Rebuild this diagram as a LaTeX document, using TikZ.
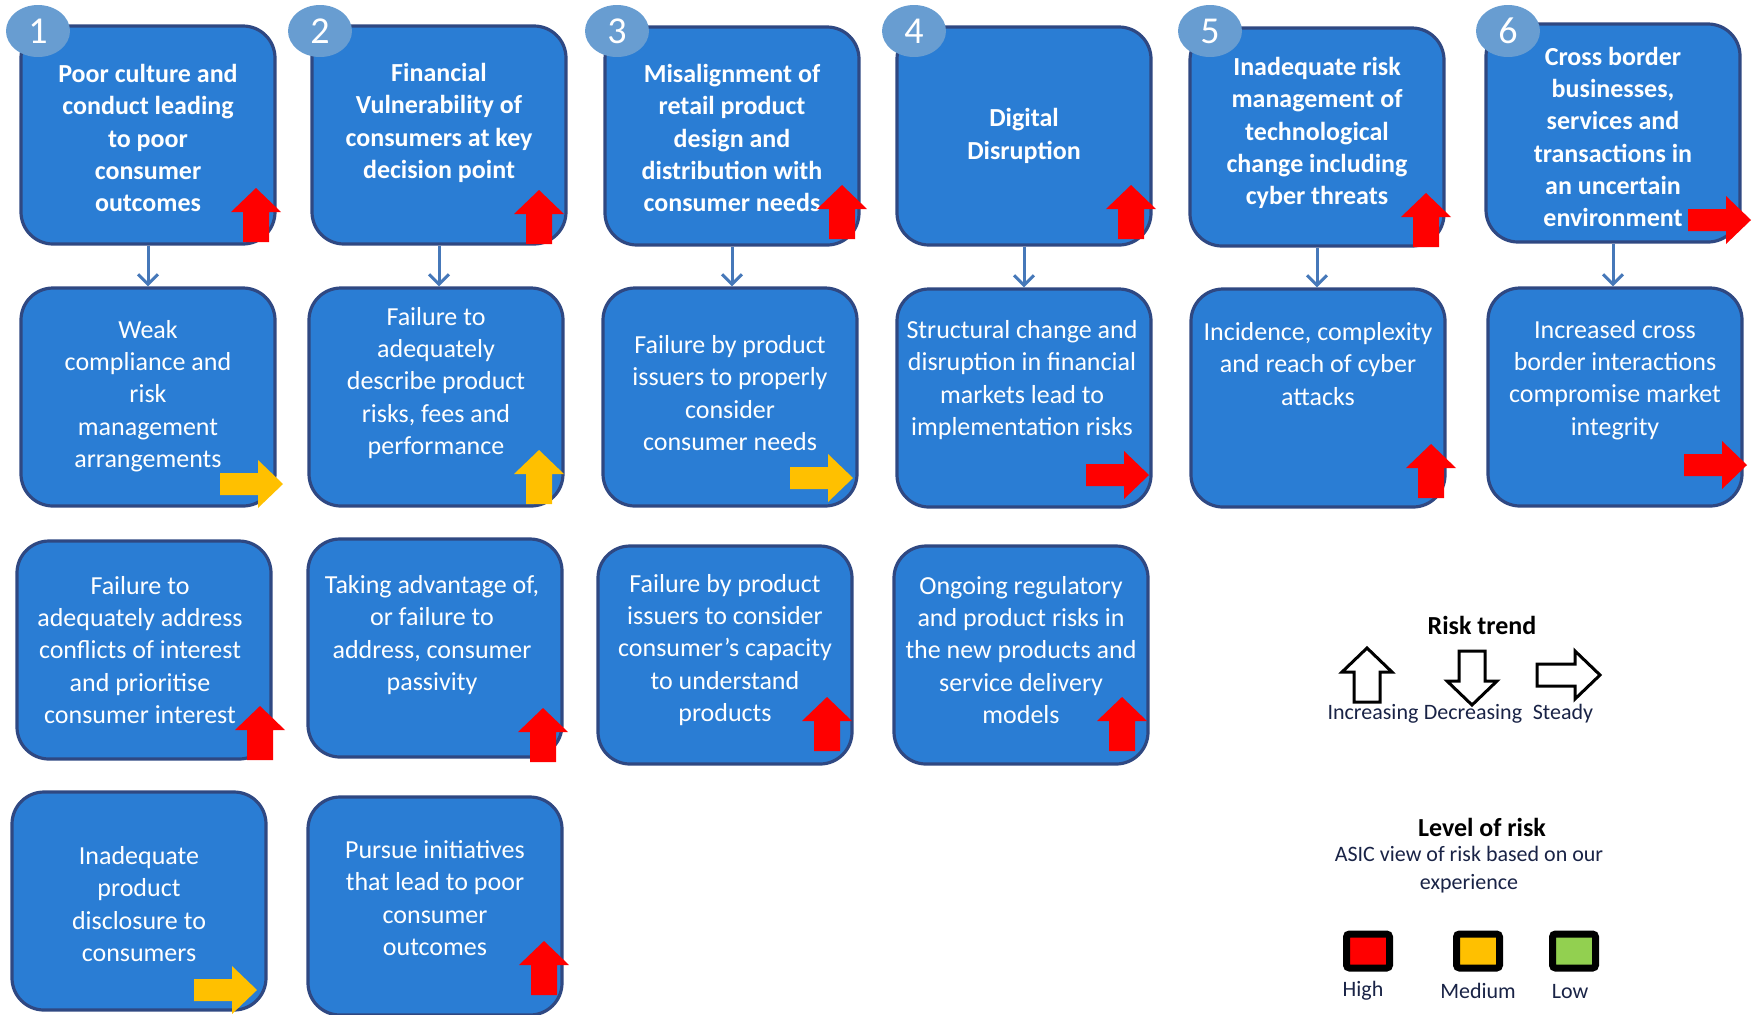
\documentclass[tikz,border=0pt]{standalone}
\usepackage{fontspec}
\setmainfont{Carlito}
\usetikzlibrary{arrows.meta,shapes.geometric}
\definecolor{boxblue}{RGB}{42,125,212}
\definecolor{boxedge}{RGB}{47,72,130}
\definecolor{numblue}{RGB}{104,157,209}
\definecolor{linkblue}{RGB}{70,120,185}
\definecolor{riskred}{RGB}{255,0,0}
\definecolor{riskamber}{RGB}{255,192,0}
\definecolor{risklow}{RGB}{146,208,80}
\definecolor{legink}{RGB}{25,35,70}
\begin{document}
\begin{tikzpicture}[x=0.5pt,y=-0.5pt,
  riskbox/.style={draw=boxedge,fill=boxblue,line width=1.6pt,rounded corners=16pt,
    minimum width=127pt,minimum height=109pt},
  boxtext/.style={text=white,align=center,inner sep=0pt,font=\fontsize{13}{16.1}\selectfont},
  toptext/.style={boxtext,font=\fontsize{13}{16.1}\selectfont\bfseries},
  badge/.style={ellipse,fill=numblue,minimum width=32pt,minimum height=26pt,inner sep=0pt,
    text=white,font=\fontsize{19}{22}\selectfont},
  link/.style={draw=linkblue,line width=1.5pt,-{Straight Barb[length=5pt,width=10pt]}},
  legtitle/.style={font=\fontsize{13}{16}\selectfont\bfseries,inner sep=0pt},
  legtext/.style={text=legink,font=\fontsize{11}{14}\selectfont,align=center,inner sep=0pt},
  level/.style={draw=black,line width=3.5pt,minimum width=21.5pt,minimum height=17pt,rounded corners=1.5pt},
  uptrend/.pic={\path[pic actions] (0,0) -- (25,24) -- (13,24) -- (13,54) -- (-13,54) -- (-13,24) -- (-25,24) -- cycle;},
  righttrend/.pic={\path[pic actions] (0,0) -- (-25,24) -- (-25,11) -- (-63,11) -- (-63,-11) -- (-25,-11) -- (-25,-24) -- cycle;}]
\useasboundingbox (0,0) rectangle (1756,1014);

\node[riskbox] (r11) at (148,135) {};
\node[riskbox] (r12) at (439,135) {};
\node[riskbox] (r13) at (732,136) {};
\node[riskbox] (r14) at (1024,136) {};
\node[riskbox] (r15) at (1317,137) {};
\node[riskbox] (r16) at (1613,133) {};
\node[toptext] (t11) at (148,138) {Poor culture and\\conduct leading\\to poor\\consumer\\outcomes};
\node[toptext] (t12) at (439,123) {Financial\\Vulnerability of\\consumers at key\\decision point};
\node[toptext] (t13) at (732,138) {Misalignment of\\retail product\\design and\\distribution with\\consumer needs};
\node[toptext] (t14) at (1024,136) {Digital\\Disruption};
\node[toptext] (t15) at (1317,133) {Inadequate risk\\management of\\technological\\change including\\cyber threats};
\node[toptext] (t16) at (1613,137) {Cross border\\businesses,\\services and\\transactions in\\an uncertain\\environment};

\node[riskbox] (r21) at (148,397) {};
\node[riskbox] (r22) at (436,397) {};
\node[riskbox] (r23) at (730,397) {};
\node[riskbox] (r24) at (1024,398) {};
\node[riskbox] (r25) at (1318,398) {};
\node[riskbox] (r26) at (1615,397) {};
\node[boxtext] (t21) at (148,396) {Weak\\compliance and\\risk\\management\\arrangements};
\node[boxtext] (t22) at (436,383) {Failure to\\adequately\\describe product\\risks, fees and\\performance};
\node[boxtext] (t23) at (730,393) {Failure by product\\issuers to properly\\consider\\consumer needs};
\node[boxtext] (t24) at (1022,380) {Structural change and\\disruption in financial\\markets lead to\\implementation risks};
\node[boxtext] (t25) at (1318,364) {Incidence, complexity\\and reach of cyber\\attacks};
\node[boxtext] (t26) at (1615,380) {Increased cross\\border interactions\\compromise market\\integrity};

\node[riskbox] (r31) at (144,650) {};
\node[riskbox] (r32) at (435,648) {};
\node[riskbox] (r33) at (725,655) {};
\node[riskbox] (r34) at (1021,655) {};
\node[boxtext] (t31) at (140,650) {Failure to\\adequately address\\conflicts of interest\\and prioritise\\consumer interest};
\node[boxtext] (t32) at (432,635) {Taking advantage of,\\or failure to\\address, consumer\\passivity};
\node[boxtext] (t33) at (725,650) {Failure by product\\issuers to consider\\consumer’s capacity\\to understand\\products};
\node[boxtext] (t34) at (1021,650) {Ongoing regulatory\\and product risks in\\the new products and\\service delivery\\models};

\node[riskbox] (r41) at (139,901) {};
\node[riskbox] (r42) at (435,906) {};
\node[boxtext] (t41) at (139,904) {Inadequate\\product\\disclosure to\\consumers};
\node[boxtext] (t42) at (435,898) {Pursue initiatives\\that lead to poor\\consumer\\outcomes};

\node[badge] (n1) at (38,31) {1};
\node[badge] (n2) at (320,31) {2};
\node[badge] (n3) at (617,31) {3};
\node[badge] (n4) at (914,31) {4};
\node[badge] (n5) at (1210,31) {5};
\node[badge] (n6) at (1508,31) {6};

\draw[link] (r11.south) -- (r11.south |- r21.north);
\draw[link] (r12.south) -- (r12.south |- r22.north);
\draw[link] (r13.south) -- (r13.south |- r23.north);
\draw[link] (r14.south) -- (r14.south |- r24.north);
\draw[link] (r15.south) -- (r15.south |- r25.north);
\draw[link] (r16.south) -- (r16.south |- r26.north);

\pic[fill=riskred] at (256,188) {uptrend};
\pic[fill=riskred] at (539,190) {uptrend};
\pic[fill=riskred] at (842,185) {uptrend};
\pic[fill=riskred] at (1131,185) {uptrend};
\pic[fill=riskred] at (1426,193) {uptrend};
\pic[fill=riskred] at (1751,220) {righttrend};
\pic[fill=riskamber] at (283,484) {righttrend};
\pic[fill=riskamber] at (539,450) {uptrend};
\pic[fill=riskamber] at (853,478) {righttrend};
\pic[fill=riskred] at (1149,475) {righttrend};
\pic[fill=riskred] at (1431,444) {uptrend};
\pic[fill=riskred] at (1747,465) {righttrend};
\pic[fill=riskred] at (260,706) {uptrend};
\pic[fill=riskred] at (543,708) {uptrend};
\pic[fill=riskred] at (827,697) {uptrend};
\pic[fill=riskred] at (1122,697) {uptrend};
\pic[fill=riskamber] at (257,990) {righttrend};
\pic[fill=riskred] at (544,941) {uptrend};

\node[legtitle] (trend) at (1482,625) {Risk trend};
\pic[draw=black,fill=white,line width=1.5pt] at (1367,648) {uptrend};
\pic[draw=black,fill=white,line width=1.5pt,rotate=180] at (1472,705) {uptrend};
\pic[draw=black,fill=white,line width=1.5pt] at (1600,675) {righttrend};
\node[legtext] (incr) at (1373,714) {Increasing};
\node[legtext] (decr) at (1473,714) {Decreasing};
\node[legtext] (stdy) at (1563,714) {Steady};

\node[legtitle] (lvl) at (1482,827) {Level of risk};
\node[legtext] (view) at (1469,870) {ASIC view of risk based on our\\experience};
\node[level,fill=riskred] (high) at (1368,951) {};
\node[level,fill=riskamber] (med) at (1478,951) {};
\node[level,fill=risklow] (low) at (1574,951) {};
\node[legtext] (hightxt) at (1363,991) {High};
\node[legtext] (medtxt) at (1478,991) {Medium};
\node[legtext] (lowtxt) at (1570,991) {Low};
\end{tikzpicture}
\end{document}
